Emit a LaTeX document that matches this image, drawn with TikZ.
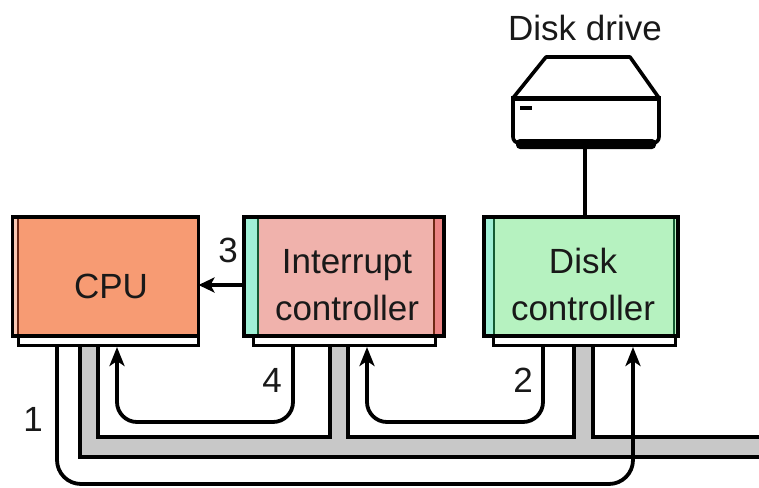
\documentclass[tikz,border=0pt]{standalone}
\usepackage{fontspec}
\setmainfont{Liberation Sans}
\usetikzlibrary{arrows.meta}
\definecolor{cpufill}{RGB}{247,155,115}
\definecolor{cpustrip}{RGB}{250,200,180}
\definecolor{cpudark}{RGB}{110,40,20}
\definecolor{intfill}{RGB}{240,178,172}
\definecolor{intred}{RGB}{236,132,132}
\definecolor{cyanstrip}{RGB}{160,240,214}
\definecolor{greendark}{RGB}{20,90,50}
\definecolor{diskfill}{RGB}{182,242,192}
\definecolor{busgray}{RGB}{200,200,200}
\begin{document}
\begin{tikzpicture}[x=1pt,y=-1pt,line join=miter,
  boxnode/.style={minimum width=#1, minimum height=119pt, inner sep=0pt, outer sep=0pt},
  basenode/.style={draw=black, fill=white, line width=3pt, minimum width=#1, minimum height=10pt, inner sep=0pt, outer sep=0pt},
  border/.style={draw=black, line width=3.6pt},
  lbl/.style={font=\fontsize{35}{40}\selectfont, anchor=base, inner sep=0pt, text=black!90},
  busline/.style={draw=black, line width=3.8pt},
  arr/.style={draw=black, line width=3.8pt, -{Stealth[length=19pt,width=15pt,inset=5pt]}},
  arrs/.style={draw=black, line width=3.8pt, -{Stealth[length=16pt,width=15pt,inset=4pt]}}
]
\useasboundingbox (0,0) rectangle (759,487);

% bus
\fill[busgray] (80,340) -- (80,457) -- (759,457) -- (759,437) -- (593,437) -- (593,340)
  -- (574,340) -- (574,437) -- (348,437) -- (348,340) -- (330,340) -- (330,437)
  -- (98,437) -- (98,340) -- cycle;
\draw[busline] (80,340) -- (80,457) -- (759,457);
\draw[busline] (98,340) -- (98,437) -- (330,437) -- (330,340);
\draw[busline] (348,340) -- (348,437) -- (574,437) -- (574,340);
\draw[busline] (593,340) -- (593,437) -- (759,437);

% bases
\node[basenode=180pt] (cpubase) at (108,340) {};
\node[basenode=182pt] (intbase) at (344,340) {};
\node[basenode=182pt] (diskbase) at (584,340) {};

% CPU box
\node[boxnode=186pt, fill=cpufill] (cpu) at (105.5,276.5) {};
\fill[cpustrip] (cpu.north west) rectangle ([xshift=5pt]cpu.south west);
\draw[cpudark, line width=1.5pt] ([xshift=5.5pt]cpu.north west) -- ([xshift=5.5pt]cpu.south west);
\draw[border] (cpu.north west) rectangle (cpu.south east);

% Interrupt controller box
\node[boxnode=200pt, fill=intfill] (intc) at (344,276.5) {};
\fill[cyanstrip] (intc.north west) rectangle ([xshift=13pt]intc.south west);
\draw[greendark, line width=2pt] ([xshift=14pt]intc.north west) -- ([xshift=14pt]intc.south west);
\fill[intred] ([xshift=-9pt]intc.north east) rectangle (intc.south east);
\draw[cpudark, line width=1.5pt] ([xshift=-10pt]intc.north east) -- ([xshift=-10pt]intc.south east);
\draw[border] (intc.north west) rectangle (intc.south east);

% Disk controller box
\node[boxnode=194pt, fill=diskfill] (diskc) at (581,276.5) {};
\fill[cyanstrip] (diskc.north west) rectangle ([xshift=9pt]diskc.south west);
\draw[greendark, line width=2pt] ([xshift=10pt]diskc.north west) -- ([xshift=10pt]diskc.south west);
\draw[greendark, line width=1.2pt] ([xshift=-4pt]diskc.north east) -- ([xshift=-4pt]diskc.south east);
\draw[border] (diskc.north west) rectangle (diskc.south east);

% box labels
\node[lbl] (cputxt) at (111,298) {CPU};
\node[lbl] (inttxt1) at (347,273) {Interrupt};
\node[lbl] (inttxt2) at (347,320) {controller};
\node[lbl] (disktxt1) at (583,273) {Disk};
\node[lbl] (disktxt2) at (583,320) {controller};

% disk drive
\draw[border, fill=white, rounded corners=6pt] (513,96) -- (513,143) -- (659,143) -- (659,96);
\fill[black, rounded corners=4pt] (516,139) rectangle (656,149);
\draw[border, fill=white, line join=round] (546,57) -- (630,57) -- (659,98) -- (513,98) -- cycle;
\draw[black, line width=1.5pt] (513,100) -- (659,100);
\fill[black] (520,105.5) rectangle (532,110);
\coordinate (drivebot) at (585,149);
\node[lbl] (drivetxt) at (585,41) {Disk drive};
\draw[black, line width=3.6pt] (drivebot) -- (drivebot |- diskc.north);

% arrows
\coordinate (a1s) at (57,345);
\coordinate (a1m) at (633,484);
\coordinate (a1e) at (633,347);
\draw[arr, rounded corners=24pt] (a1s) |- (a1m) -- (a1e);

\coordinate (a4s) at (293,345);
\coordinate (a4m) at (117,422);
\coordinate (a4e) at (117,347);
\draw[arr, rounded corners=20pt] (a4s) |- (a4m) -- (a4e);

\coordinate (a2s) at (543,345);
\coordinate (a2m) at (367,422);
\coordinate (a2e) at (367,347);
\draw[arr, rounded corners=20pt] (a2s) |- (a2m) -- (a2e);

\draw[arrs] (intc.west |- 0,285) -- (cpu.east |- 0,285);

% number labels
\node[lbl] (n1) at (33,431) {1};
\node[lbl] (n2) at (523,392) {2};
\node[lbl] (n3) at (228,262) {3};
\node[lbl] (n4) at (272,392) {4};
\end{tikzpicture}
\end{document}
